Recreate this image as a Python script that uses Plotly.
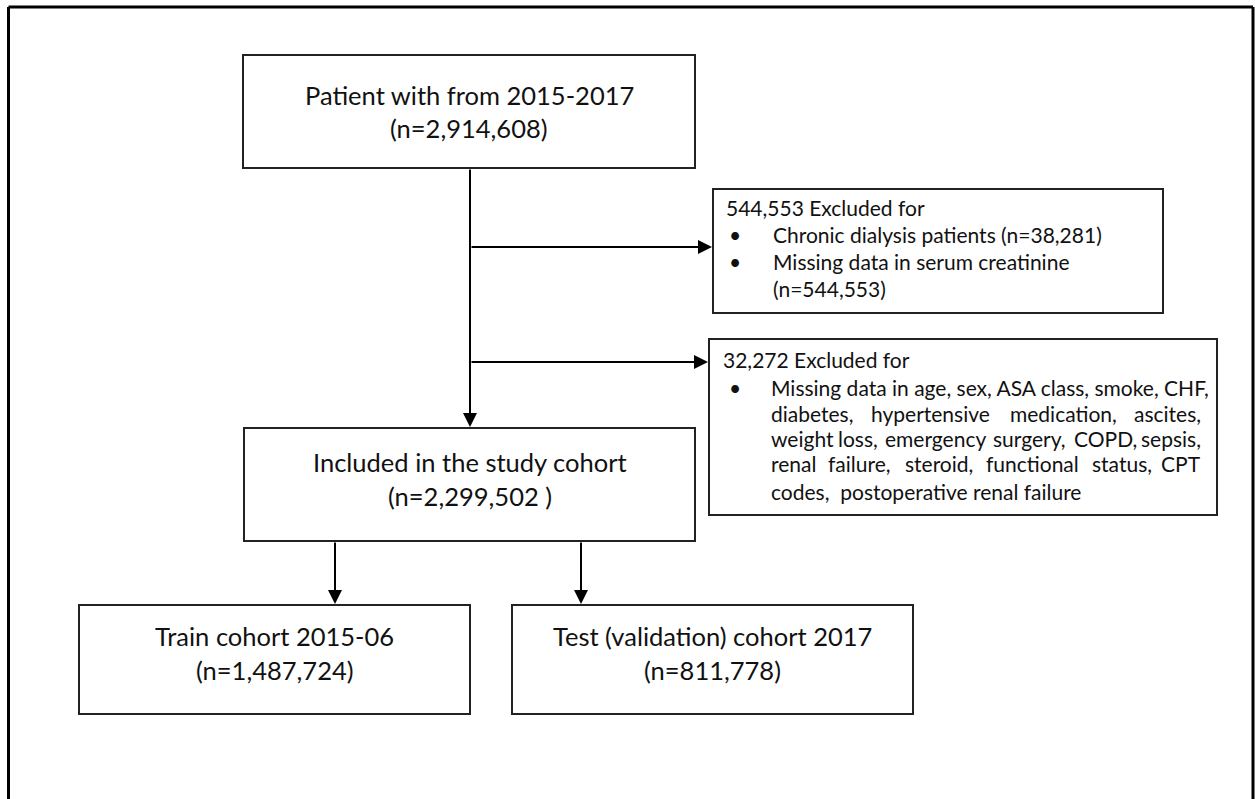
import plotly.graph_objects as go

# ---- content (values) ----
source_label = "Patient with from 2015-2017"
source_n = "2,914,608"
included_label = "Included in the study cohort"
included_n = "2,299,502 "
train_label = "Train cohort 2015-06"
train_n = "1,487,724"
test_label = "Test (validation) cohort 2017"
test_n = "811,778"

excl1_header = "544,553 Excluded for"
excl1_items = ["Chronic dialysis patients (n=38,281)", "Missing data in serum creatinine"]
excl1_tail = "(n=544,553)"

excl2_header = "32,272 Excluded for"
excl2_first = "Missing data in age, sex, ASA class, smoke, CHF,"
excl2_justified = [
    ["diabetes,", "hypertensive", "medication,", "ascites,"],
    ["weight", "loss,", "emergency", "surgery,", "COPD,", "sepsis,"],
    ["renal", "failure,", "steroid,", "functional", "status,", "CPT"],
]
excl2_last = "codes,  postoperative renal failure"

# ---- layout geometry (pixels) ----
W, H = 1255, 799
boxes = {
    "source": (243, 55, 695, 168),
    "included": (244, 428, 695, 541),
    "train": (79, 605, 470, 714),
    "test": (512, 605, 913, 714),
    "excl1": (713, 189, 1163, 313),
    "excl2": (709, 339, 1217, 515),
}
BIG = 25.5
SMALL = 21
FONT = "Lato, Open Sans, sans-serif"
TXT = "#111111"

# approximate advance widths (em) of the font, used only to justify lines
EM = {
    'a': .49, 'b': .55, 'c': .45, 'd': .55, 'e': .51, 'f': .32, 'g': .49, 'h': .55,
    'i': .24, 'j': .24, 'k': .49, 'l': .24, 'm': .82, 'n': .55, 'o': .55, 'p': .55,
    'q': .55, 'r': .36, 's': .42, 't': .34, 'u': .55, 'v': .50, 'w': .76, 'x': .48,
    'y': .50, 'z': .44, ',': .21, '.': .21, 'C': .65, 'O': .76, 'P': .57, 'D': .72,
    'T': .55, 'S': .50, 'H': .73, 'F': .53,
}

def text_w(s, size):
    return sum(EM.get(ch, .5) for ch in s) * size

fig = go.Figure()
shapes = []
ann = []

# outer frame (left, top, right; bottom is cut off)
for x0, y0, x1, y1 in [(8.5, 7, 8.5, 805), (8.5, 7, 1253, 7), (1253, 7, 1253, 805)]:
    shapes.append(dict(type="line", x0=x0, y0=y0, x1=x1, y1=y1, xref="x", yref="y",
                       line=dict(color="black", width=3)))

for k, (x0, y0, x1, y1) in boxes.items():
    shapes.append(dict(type="rect", x0=x0, y0=y0, x1=x1, y1=y1, xref="x", yref="y",
                       line=dict(color="#222222", width=2), fillcolor="white"))

def center_text(box, lines, ys):
    x0, _, x1, _ = boxes[box]
    for t, y in zip(lines, ys):
        ann.append(dict(x=(x0 + x1) / 2, y=y, text=t, showarrow=False, xanchor="center",
                        yanchor="middle", font=dict(family=FONT, size=BIG, color=TXT)))

center_text("source", [source_label, f"(n={source_n})"], [95, 128])
center_text("included", [included_label, f"(n={included_n})"], [462, 496])
center_text("train", [train_label, f"(n={train_n})"], [636, 670])
center_text("test", [test_label, f"(n={test_n})"], [636, 670])

def left_text(x, y, t, anchor="left"):
    ann.append(dict(x=x, y=y, text=t, showarrow=False, xanchor=anchor, yanchor="middle",
                    font=dict(family=FONT, size=SMALL, color=TXT)))

# exclusion box 1
left_text(724, 207, excl1_header)
for t, y in zip(excl1_items, [234, 261]):
    left_text(727, y, "•")
    left_text(771, y, t)
left_text(771, 288, excl1_tail)

# exclusion box 2
left_text(721, 359, excl2_header)
left_text(727, 387, "•")
left_text(769, 387, excl2_first)
just_left, just_right = 769, 1203
for words, y in zip(excl2_justified, [413, 438, 463]):
    # justified: spread words evenly between the left and right margins
    n = len(words)
    ws = [text_w(w, SMALL) for w in words]
    gap = (just_right - just_left - sum(ws)) / (n - 1)
    x = just_left
    for i, w in enumerate(words):
        if i == 0:
            left_text(just_left, y, w, "left")
        elif i == n - 1:
            left_text(just_right, y, w, "right")
        else:
            left_text(x + ws[i] / 2, y, w, "center")
        x += ws[i] + gap
left_text(769, 491, excl2_last)

# connector lines and arrows
def arrow(x0, y0, x1, y1):
    ann.append(dict(x=x1, y=y1, ax=x0, ay=y0, xref="x", yref="y", axref="x", ayref="y",
                    text="", showarrow=True, arrowhead=2, arrowsize=1.4, arrowwidth=2,
                    arrowcolor="black", standoff=0, startstandoff=0))

arrow(470, 168, 470, 427)
arrow(470, 247, 712, 247)
arrow(470, 362, 708, 362)
arrow(335, 541, 335, 604)
arrow(581, 541, 581, 604)

fig.update_layout(
    width=W, height=H, margin=dict(l=0, r=0, t=0, b=0),
    paper_bgcolor="white", plot_bgcolor="white",
    xaxis=dict(range=[0, W], visible=False, fixedrange=True),
    yaxis=dict(range=[H, 0], visible=False, fixedrange=True),
    shapes=shapes, annotations=ann, showlegend=False,
)
fig.write_html("out.html", config={"displayModeBar": False},
               post_script="document.body.style.margin='0';document.body.style.overflow='hidden';")
